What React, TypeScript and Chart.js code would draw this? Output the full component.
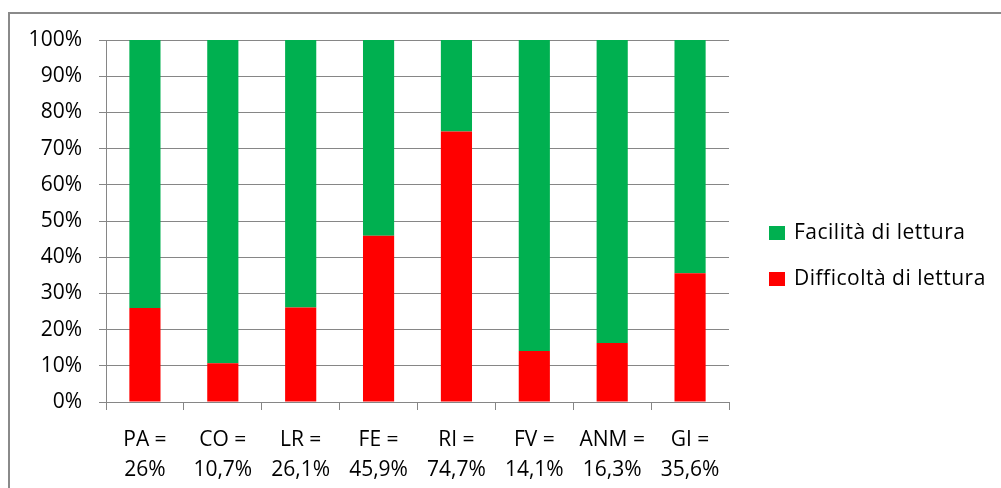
import { useEffect, useRef } from "react";
import { Chart, registerables } from "chart.js";

Chart.register(...registerables);

// Reading-difficulty survey: share of each group that found reading hard vs easy
const codes = ["PA", "CO", "LR", "FE", "RI", "FV", "ANM", "GI"];
const difficolta = [26, 10.7, 26.1, 45.9, 74.7, 14.1, 16.3, 35.6];
const facilita = [74, 89.3, 73.9, 54.1, 25.3, 85.9, 83.7, 64.4];
const seriesNames = ["Difficoltà di lettura", "Facilità di lettura"];
const seriesColors = ["#FF0000", "#00B050"];
const yTickStep = 10;

const FONT = "'Open Sans', 'Noto Sans', sans-serif";
const FONT_SIZE = 21;
const GRID = "#868686";

const categoryLabels = codes.map((c, i) => [
  `${c} =`,
  `${String(difficolta[i]).replace(".", ",")}%`,
]);

// Outer frame around the whole chart (top and left edges visible)
const framePlugin = {
  id: "frame",
  beforeDraw(chart: Chart) {
    const ctx = chart.ctx;
    ctx.save();
    ctx.strokeStyle = "#8a8a8a";
    ctx.lineWidth = 2;
    ctx.beginPath();
    ctx.moveTo(9, chart.height + 5);
    ctx.lineTo(9, 13);
    ctx.lineTo(chart.width + 5, 13);
    ctx.stroke();
    ctx.restore();
  },
};

// Legend on the right, listed top-to-bottom in stack order (top series first)
const sideLegendPlugin = {
  id: "sideLegend",
  afterDraw(chart: Chart) {
    const ctx = chart.ctx as any;
    const items = chart.data.datasets.slice().reverse();
    const x = 769;
    const y0 = 233;
    const step = 46;
    ctx.save();
    ctx.font = `${FONT_SIZE}px ${FONT}`;
    ctx.letterSpacing = "0.5px";
    ctx.textBaseline = "middle";
    ctx.textAlign = "left";
    items.forEach((ds, i) => {
      const cy = y0 + i * step;
      ctx.fillStyle = ds.backgroundColor as string;
      ctx.fillRect(x, cy - 7, 16, 14);
      ctx.fillStyle = "#000";
      ctx.fillText(ds.label as string, x + 25, cy);
    });
    ctx.restore();
  },
};

export default function App() {
  const canvasRef = useRef<HTMLCanvasElement>(null);

  useEffect(() => {
    if (!canvasRef.current) return;
    const chart = new Chart(canvasRef.current, {
      type: "bar",
      data: {
        labels: categoryLabels,
        datasets: [
          {
            label: seriesNames[0],
            data: difficolta,
            backgroundColor: seriesColors[0],
            barPercentage: 0.4,
            categoryPercentage: 1,
          },
          {
            label: seriesNames[1],
            data: facilita,
            backgroundColor: seriesColors[1],
            barPercentage: 0.4,
            categoryPercentage: 1,
          },
        ],
      },
      options: {
        responsive: false,
        animation: false,
        layout: { padding: { left: 0, top: 40, right: 272, bottom: 0 } },
        plugins: {
          legend: { display: false },
          tooltip: { enabled: false },
        },
        scales: {
          x: {
            stacked: true,
            grid: {
              drawOnChartArea: false,
              drawTicks: true,
              tickLength: 8,
              color: GRID,
              offset: true,
            },
            border: { color: GRID, width: 1 },
            ticks: {
              color: "#000",
              font: { family: FONT, size: FONT_SIZE, lineHeight: 1.43 },
              padding: 15,
              maxRotation: 0,
              autoSkip: false,
            },
            afterFit: (s: any) => {
              s.height = 86;
            },
          },
          y: {
            stacked: true,
            min: 0,
            max: 100,
            grid: { color: GRID, tickLength: 7 },
            border: { color: GRID, width: 1 },
            ticks: {
              stepSize: yTickStep,
              color: "#000",
              font: { family: FONT, size: FONT_SIZE },
              padding: 17,
              callback: (v: any) => `${v}%`,
            },
            afterFit: (s: any) => {
              s.width = 106;
            },
          },
        },
      },
      plugins: [framePlugin, sideLegendPlugin],
    });
    return () => chart.destroy();
  }, []);

  return (
    <div
      style={{
        position: "fixed",
        left: 0,
        top: 0,
        width: 1001,
        height: 488,
        overflow: "hidden",
        background: "#fff",
      }}
    >
      <canvas ref={canvasRef} width={1001} height={488} />
    </div>
  );
}
